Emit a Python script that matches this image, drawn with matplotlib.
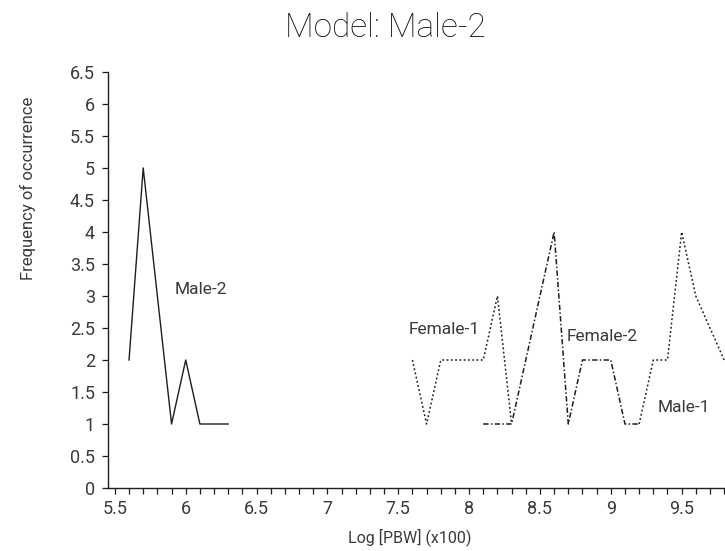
import matplotlib
matplotlib.use("Agg")
import matplotlib.pyplot as plt
from matplotlib.ticker import MultipleLocator

plt.rcParams['font.family'] = ['Roboto', 'DejaVu Sans']

# Frequency of occurrence per Log[PBW] bin for each model
male2_x = [5.6, 5.7, 5.8, 5.9, 6.0, 6.1, 6.2, 6.3]
male2_y = [2, 5, 3, 1, 2, 1, 1, 1]

female1_x = [7.6, 7.7, 7.8, 7.9, 8.0, 8.1, 8.2, 8.3]
female1_y = [2, 1, 2, 2, 2, 2, 3, 1]

female2_x = [8.1, 8.2, 8.3, 8.4, 8.5, 8.6, 8.7, 8.8, 8.9, 9.0, 9.1, 9.2]
female2_y = [1, 1, 1, 2, 3, 4, 1, 2, 2, 2, 1, 1]

male1_x = [9.2, 9.3, 9.4, 9.5, 9.6, 9.7, 9.8]
male1_y = [1, 2, 2, 4, 3, 2.5, 2]

labels = ["Male-2", "Female-1", "Female-2", "Male-1"]
label_pos = [(5.92, 3.1), (7.57, 2.47), (8.685, 2.37), (9.33, 1.25)]

y_ticks = [0, 0.5, 1, 1.5, 2, 2.5, 3, 3.5, 4, 4.5, 5, 5.5, 6, 6.5]
x_ticks = [5.5, 6, 6.5, 7, 7.5, 8, 8.5, 9, 9.5]

W, H = 725, 551
fig = plt.figure(figsize=(W / 100, H / 100), dpi=100)
left, right, bottom, top = 107.5, 725, 488, 72
ax = fig.add_axes([left / W, 1 - bottom / H, (right - left) / W, (bottom - top) / H])

ink = '#1e1e1e'
txt_color = '#3a3a3a'
ax.plot(male2_x, male2_y, color=ink, lw=1.0, ls='-')
ax.plot(female1_x, female1_y, color=ink, lw=1.1, ls=(0, (1.2, 1.6)))
ax.plot(female2_x, female2_y, color=ink, lw=1.1, ls=(0, (3.5, 1.5, 1.0, 1.5)))
ax.plot(male1_x, male1_y, color=ink, lw=1.1, ls=(0, (1.2, 1.6)))

for txt, (tx, ty) in zip(labels, label_pos):
    ax.text(tx, ty, txt, ha='left', va='center', fontsize=12.5, color=txt_color)

ax.set_xlim(5.448, 9.806)
ax.set_ylim(0, 6.5)
ax.set_xticks(x_ticks)
ax.set_xticklabels([f"{v:g}" for v in x_ticks])
ax.xaxis.set_minor_locator(MultipleLocator(0.1))
ax.set_yticks(y_ticks)
ax.set_yticklabels([f"{v:g}" for v in y_ticks])

for side in ('top', 'right'):
    ax.spines[side].set_visible(False)
for side in ('left', 'bottom'):
    ax.spines[side].set_color(ink)
    ax.spines[side].set_linewidth(1.0)

ax.tick_params(axis='both', which='both', direction='out', length=4, width=0.9,
               color=ink, labelsize=13, labelcolor=txt_color, pad=5)
ax.tick_params(axis='x', which='minor', length=4)

fig.text(385 / W, 1 - 28 / H, "Model: Male-2", ha='center', va='center',
         fontsize=24, color='#111111', fontweight='light')
fig.text(410 / W, 1 - 537 / H, "Log [PBW] (x100)", ha='center', va='center',
         fontsize=11.5, color=txt_color)
fig.text(28 / W, 1 - 188 / H, "Frequency of occurrence", ha='center', va='center',
         rotation=90, fontsize=12, color=txt_color)

fig.savefig("out.png", dpi=100)
